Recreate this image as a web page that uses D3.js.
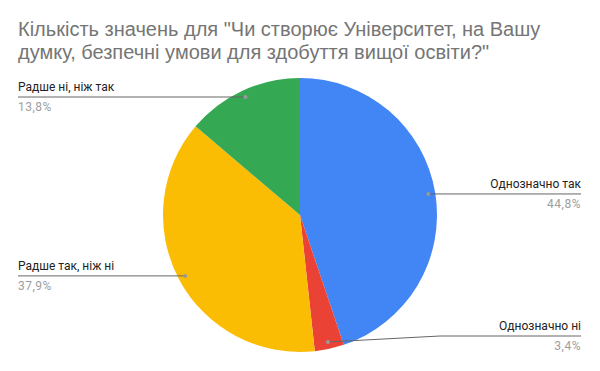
<!DOCTYPE html>
<html>
<head>
<meta charset="utf-8">
<script src="https://cdn.jsdelivr.net/npm/d3@7"></script>
<style>
    body { margin: 0; background: #fff; }
    svg { display: block; }
</style>
</head>
<body>
<div id="chart"></div>
<script>
'use strict';

const titleLines = [
    'Кількість значень для "Чи створює Університет, на Вашу',
    'думку, безпечні умови для здобуття вищої освіти?"'
];
const categories = ['Однозначно так', 'Однозначно ні', 'Радше так, ніж ні', 'Радше ні, ніж так'];
const counts = [13, 1, 11, 4];
const percentLabels = ['44,8%', '3,4%', '37,9%', '13,8%'];
const colors = ['#4285f4', '#ea4335', '#fbbc04', '#34a853'];

const width = 600;
const height = 371;
const cx = 300;
const cy = 215;
const radius = 137;

const svg = d3.select('#chart')
    .append('svg')
    .attr('width', width)
    .attr('height', height);

svg.append('g')
    .selectAll('text')
    .data(titleLines)
    .join('text')
    .attr('x', 18)
    .attr('y', (d, i) => 36 + i * 23)
    .attr('font-family', '"Liberation Sans", Arial, sans-serif')
    .attr('font-size', 20)
    .attr('fill', '#757575')
    .text(d => d);

const pie = d3.pie().sort(null)(counts);
const arc = d3.arc().innerRadius(0).outerRadius(radius);
const dotArc = d3.arc().innerRadius(130).outerRadius(130);

const g = svg.append('g')
    .attr('transform', `translate(${cx},${cy})`);

g.selectAll('path')
    .data(pie)
    .join('path')
    .attr('d', arc)
    .attr('fill', (d, i) => colors[i]);

// leader lines and labels
const labels = svg.append('g');

pie.forEach((d, i) => {
    const [dx, dy] = dotArc.centroid(d);
    const px = cx + dx;
    const py = cy + dy;
    const right = px > cx;
    const ly = Math.min(py, height - 35);
    const endX = right ? 581 : 18;
    const bendX = right ? 440 : 18;

    const pts = right
        ? [[px, py], [bendX, ly], [endX, ly]]
        : [[px, py], [endX, ly]];

    labels.append('path')
        .attr('d', d3.line()(pts))
        .attr('fill', 'none')
        .attr('stroke', '#666')
        .attr('stroke-width', 1);

    labels.append('circle')
        .attr('cx', px)
        .attr('cy', py)
        .attr('r', 2)
        .attr('fill', '#999');

    labels.append('text')
        .attr('x', endX)
        .attr('y', ly - 6)
        .attr('text-anchor', right ? 'end' : 'start')
        .attr('font-family', 'Roboto, sans-serif')
        .attr('font-size', 12)
        .attr('fill', '#222')
        .text(categories[i]);

    labels.append('text')
        .attr('x', endX)
        .attr('y', ly + 14)
        .attr('text-anchor', right ? 'end' : 'start')
        .attr('font-family', 'Roboto, sans-serif')
        .attr('font-size', 12)
        .attr('letter-spacing', 0.5)
        .attr('fill', '#9e9e9e')
        .text(percentLabels[i]);
});
</script>
</body>
</html>
